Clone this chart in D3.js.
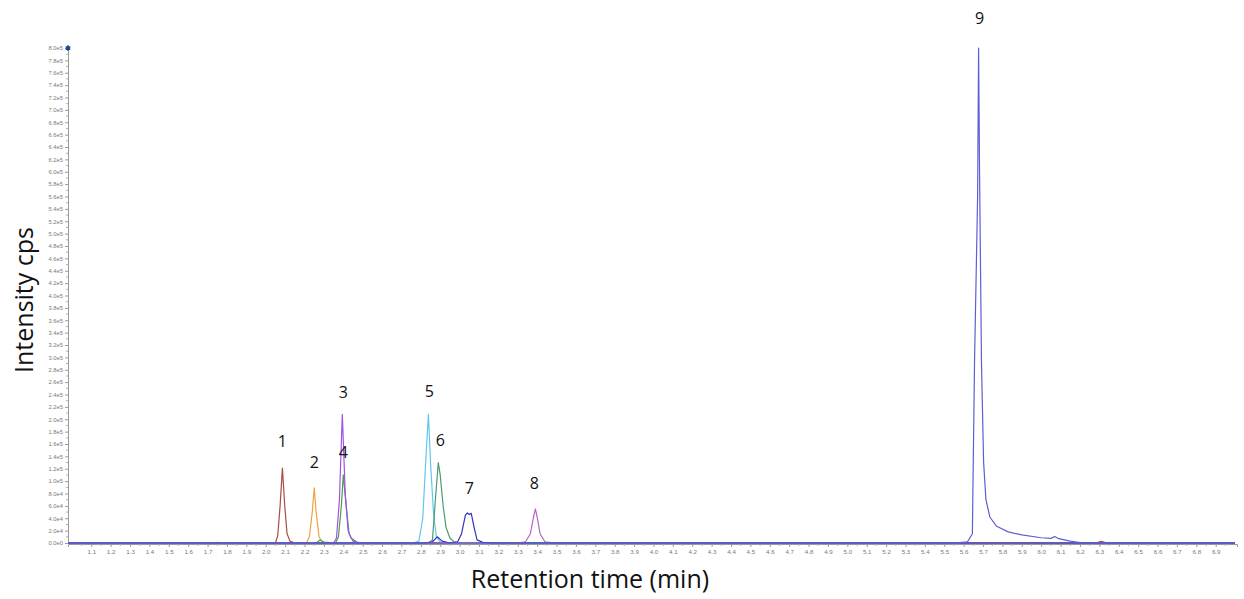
<!DOCTYPE html>
<html>
<head>
<meta charset="utf-8">
<script src="https://cdn.jsdelivr.net/npm/d3@7"></script>
<style>
  body { margin: 0; background: #fff; }
  svg { display: block; font-family: "Open Sans", sans-serif; }
</style>
</head>
<body>
<div id="chart"></div>
<script>
// retention time (min) / intensity (cps) pairs
const trace1 = [[0.98,0],[2.05,0],[2.062,12000],[2.074,60000],[2.086,121000],[2.098,60000],[2.11,15000],[2.125,3000],[2.15,0],[6.28,0],[6.31,2500],[6.34,0],[7.0,0]];
const trace2 = [[0.98,0],[1.72,0],[1.75,1000],[1.78,0],[2.21,0],[2.225,10000],[2.24,50000],[2.25,89000],[2.26,50000],[2.275,10000],[2.29,2000],[2.32,0],[7.0,0]];
const trace3 = [[0.98,0],[2.35,0],[2.365,8000],[2.38,70000],[2.395,208000],[2.41,80000],[2.425,20000],[2.44,8000],[2.47,1500],[2.5,0],[7.0,0]];
const trace4 = [[0.98,0],[2.26,0],[2.28,5000],[2.30,1500],[2.36,0],[2.375,10000],[2.39,60000],[2.40,110000],[2.415,60000],[2.43,15000],[2.45,3000],[2.48,0],[7.0,0]];
const trace5 = [[0.98,0],[2.76,0],[2.79,3000],[2.81,40000],[2.825,130000],[2.839,208000],[2.85,130000],[2.865,50000],[2.88,10000],[2.9,2000],[2.93,0],[7.0,0]];
const trace6 = [[0.98,0],[2.84,0],[2.86,5000],[2.875,70000],[2.89,130000],[2.90,110000],[2.915,60000],[2.93,25000],[2.95,8000],[2.97,2000],[3.0,0],[7.0,0]];
const trace7 = [[0.98,0],[2.82,0],[2.86,2000],[2.885,10000],[2.91,3000],[2.95,0],[2.99,2000],[3.01,15000],[3.03,45000],[3.04,48500],[3.05,46000],[3.06,48000],[3.075,25000],[3.09,5000],[3.12,1000],[3.2,0],[7.0,0]];
const trace8 = [[0.98,0],[3.30,0],[3.34,2000],[3.365,15000],[3.38,40000],[3.391,55000],[3.40,42000],[3.415,15000],[3.44,2000],[3.5,0],[7.0,0]];
const trace9 = [[0.98,0],[5.55,0],[5.62,2000],[5.645,15000],[5.656,290000],[5.672,560000],[5.677,800000],[5.682,600000],[5.692,290000],[5.703,130000],[5.715,70000],[5.735,42000],[5.77,27000],[5.83,18000],[5.9,13000],[6.0,8500],[6.05,7500],[6.07,10500],[6.09,7000],[6.15,3000],[6.2,500],[6.25,0],[7.0,0]];

const traces = [trace2, trace4, trace3, trace1, trace5, trace6, trace8, trace7, trace9];
const traceColors = ['#f2a23c', '#4a9e4a', '#a052e6', '#a84c48', '#62c6ee', '#4f9a70', '#b466c2', '#3434bc', '#5e5ed6'];

const peakNames = ['1', '2', '3', '4', '5', '6', '7', '8', '9'];
const peakLabelTimes = [2.086, 2.251, 2.40, 2.40, 2.844, 2.901, 3.05, 3.386, 5.682];
const peakLabelValues = [155000, 121000, 234000, 137000, 236000, 157000, 79000, 87000, 839000];

const xTicks = d3.range(11, 70).map(d => d / 10);
const yTicks = d3.range(0, 800001, 20000);

const width = 1244;
const height = 599;

const svg = d3.select('#chart').append('svg')
  .attr('width', width)
  .attr('height', height);

const x = d3.scaleLinear()
  .domain([0.98, 7.01])
  .range([68, 1237]);

const y = d3.scaleLinear()
  .domain([0, 800000])
  .range([543, 48]);

const fmtY = v => v === 0 ? '0.0e0' : d3.format('.1e')(v).replace('+', '');

// y axis
const yAxis = svg.append('g')
  .attr('transform', 'translate(68,0)')
  .call(d3.axisLeft(y).tickValues(yTicks).tickFormat(fmtY).tickSize(3).tickPadding(2));
yAxis.select('.domain').attr('stroke', '#9a9a9a');
yAxis.selectAll('.tick line').attr('stroke', '#9a9a9a');
yAxis.selectAll('.tick text')
  .style('font-size', '5.8px')
  .attr('fill', '#7a7a7a');

// minor y ticks
svg.append('g')
  .selectAll('line')
  .data(d3.range(10000, 800000, 20000))
  .enter().append('line')
  .attr('x1', 66)
  .attr('x2', 68)
  .attr('y1', d => y(d))
  .attr('y2', d => y(d))
  .attr('stroke', '#b0b0b0');

// x axis
const xAxis = svg.append('g')
  .attr('transform', 'translate(0,544)')
  .call(d3.axisBottom(x).tickValues(xTicks).tickFormat(d3.format('.1f')).tickSize(3).tickPadding(3));
xAxis.select('.domain').attr('stroke', '#9a9a9a');
xAxis.selectAll('.tick line').attr('stroke', '#9a9a9a');
xAxis.selectAll('.tick text')
  .style('font-size', '6.2px')
  .attr('fill', '#7a7a7a');

svg.append('g')
  .selectAll('line')
  .data(d3.range(105, 700, 10).map(d => d / 100))
  .enter().append('line')
  .attr('x1', d => x(d))
  .attr('x2', d => x(d))
  .attr('y1', 544)
  .attr('y2', 546)
  .attr('stroke', '#b0b0b0');

// traces
const line = d3.line()
  .x(d => x(d[0]))
  .y(d => y(d[1]));

svg.append('g')
  .selectAll('path')
  .data(traces)
  .enter().append('path')
  .attr('d', line)
  .attr('fill', 'none')
  .attr('stroke', (d, i) => traceColors[i])
  .attr('stroke-width', 1.2)
  .attr('stroke-linejoin', 'round');

// corner marker
svg.append('path')
  .attr('d', d3.symbol().type(d3.symbolAsterisk).size(20)())
  .attr('transform', `translate(${x(0.98)},${y(800000)})`)
  .attr('stroke', '#1e3c96')
  .attr('stroke-width', 1.5);

// peak numbers
svg.append('g')
  .selectAll('text')
  .data(peakNames)
  .enter().append('text')
  .attr('x', (d, i) => x(peakLabelTimes[i]))
  .attr('y', (d, i) => y(peakLabelValues[i]))
  .attr('text-anchor', 'middle')
  .style('font-size', '16px')
  .attr('fill', '#111')
  .text(d => d);

// axis titles
svg.append('text')
  .attr('transform', 'rotate(-90)')
  .attr('x', -300)
  .attr('y', 33)
  .attr('text-anchor', 'middle')
  .style('font-size', '25px')
  .attr('fill', '#111')
  .text('Intensity cps');

svg.append('text')
  .attr('x', 590)
  .attr('y', 588)
  .attr('text-anchor', 'middle')
  .style('font-size', '25px')
  .attr('fill', '#111')
  .text('Retention time (min)');
</script>
</body>
</html>
